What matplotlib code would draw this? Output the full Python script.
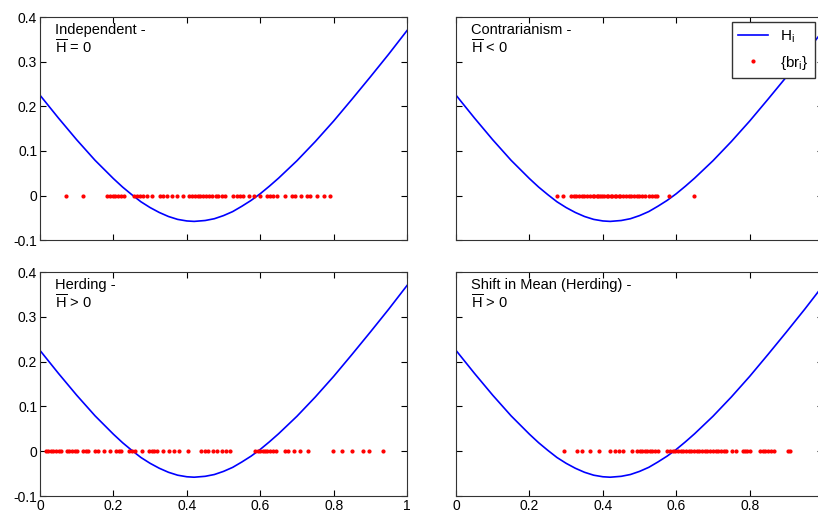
import numpy as np
import matplotlib
matplotlib.use('Agg')
import matplotlib.pyplot as plt

plt.rcParams['font.family'] = ['Liberation Sans', 'DejaVu Sans']
plt.rcParams['mathtext.fontset'] = 'custom'
plt.rcParams['mathtext.rm'] = 'Liberation Sans'
plt.rcParams['mathtext.it'] = 'Liberation Sans'

# H_i curve (same shape in every panel)
curve_x = [0.0, 0.05, 0.1, 0.15, 0.2, 0.225, 0.25, 0.275, 0.3, 0.325, 0.35, 0.375,
           0.4, 0.42, 0.45, 0.475, 0.5, 0.525, 0.55, 0.575, 0.6, 0.625, 0.65, 0.7,
           0.75, 0.8, 0.85, 0.9, 0.95, 1.0]
curve_y = [0.225, 0.174, 0.125, 0.079, 0.038, 0.019, 0.002, -0.014, -0.027, -0.038,
           -0.047, -0.0535, -0.057, -0.058, -0.056, -0.052, -0.045, -0.036, -0.024,
           -0.011, 0.004, 0.021, 0.039, 0.078, 0.121, 0.167, 0.216, 0.266, 0.317, 0.370]

# {br_i} positions for each panel
br_independent = [0.070, 0.118, 0.183, 0.191, 0.198, 0.205, 0.213, 0.221, 0.230, 0.257,
                  0.263, 0.272, 0.281, 0.291, 0.304, 0.327, 0.336, 0.347, 0.359, 0.372,
                  0.390, 0.407, 0.415, 0.422, 0.430, 0.436, 0.443, 0.451, 0.460, 0.469,
                  0.479, 0.486, 0.495, 0.504, 0.527, 0.536, 0.545, 0.554, 0.570, 0.584,
                  0.599, 0.619, 0.628, 0.636, 0.645, 0.668, 0.686, 0.695, 0.710, 0.728,
                  0.736, 0.754, 0.774, 0.790]
br_contrarian = [0.275, 0.292, 0.313, 0.321, 0.328, 0.335, 0.342, 0.348, 0.357, 0.364,
                 0.372, 0.377, 0.383, 0.388, 0.393, 0.399, 0.404, 0.410, 0.415, 0.421,
                 0.426, 0.432, 0.437, 0.443, 0.448, 0.455, 0.463, 0.470, 0.477, 0.484,
                 0.492, 0.499, 0.506, 0.515, 0.526, 0.534, 0.541, 0.548, 0.581, 0.647]
br_herding = [0.016, 0.023, 0.029, 0.036, 0.044, 0.051, 0.058, 0.073, 0.080, 0.087,
              0.094, 0.100, 0.118, 0.125, 0.132, 0.150, 0.159, 0.174, 0.191, 0.207,
              0.216, 0.222, 0.243, 0.250, 0.259, 0.277, 0.298, 0.304, 0.311, 0.318,
              0.336, 0.352, 0.365, 0.380, 0.404, 0.440, 0.450, 0.459, 0.470, 0.481,
              0.495, 0.507, 0.518, 0.586, 0.593, 0.599, 0.607, 0.613, 0.619, 0.627,
              0.636, 0.643, 0.668, 0.677, 0.692, 0.708, 0.731, 0.799, 0.824, 0.849,
              0.881, 0.897, 0.934]
br_shift = [0.293, 0.330, 0.343, 0.366, 0.389, 0.419, 0.432, 0.444, 0.455, 0.480,
            0.494, 0.501, 0.507, 0.514, 0.521, 0.528, 0.535, 0.543, 0.550, 0.576,
            0.583, 0.590, 0.597, 0.605, 0.612, 0.619, 0.627, 0.634, 0.641, 0.648,
            0.656, 0.663, 0.670, 0.678, 0.685, 0.692, 0.699, 0.707, 0.714, 0.721,
            0.729, 0.736, 0.753, 0.762, 0.781, 0.787, 0.794, 0.802, 0.829, 0.836,
            0.843, 0.851, 0.858, 0.865, 0.905, 0.911]

titles = ['Independent -', 'Contrarianism -', 'Herding -', 'Shift in Mean (Herding) -']
subtitles = [r'$\overline{\mathrm{H}}$ = 0', r'$\overline{\mathrm{H}}$ < 0',
             r'$\overline{\mathrm{H}}$ > 0', r'$\overline{\mathrm{H}}$ > 0']
dots = [br_independent, br_contrarian, br_herding, br_shift]

xticks = [0, 0.2, 0.4, 0.6, 0.8, 1]
xticklabels = ['0', '0.2', '0.4', '0.6', '0.8', '1']
yticks = [-0.1, 0, 0.1, 0.2, 0.3, 0.4]
yticklabels = ['-0.1', '0', '0.1', '0.2', '0.3', '0.4']

fig = plt.figure(figsize=(8.18, 5.12), dpi=100)

# axes boxes in figure fractions [left, bottom, width, height]
boxes = [[0.0489, 0.531, 0.4487, 0.4355],
         [0.5575, 0.531, 0.4487, 0.4355],
         [0.0489, 0.0312, 0.4487, 0.4375],
         [0.5575, 0.0312, 0.4487, 0.4375]]

for i in range(4):
    ax = fig.add_axes(boxes[i])
    line, = ax.plot(curve_x, curve_y, color='#0000ff', lw=1.2, label=r'H$_{\mathrm{i}}$')
    pts, = ax.plot(dots[i], np.zeros(len(dots[i])), '.', color='#ff0000', ms=4,
                   label=r'{br$_{\mathrm{i}}$}')
    ax.set_xlim(0, 1)
    ax.set_ylim(-0.1, 0.4)
    ax.set_xticks(xticks)
    ax.set_yticks(yticks)
    if i == 2:
        ax.set_xticklabels(xticklabels, fontsize=10)
    elif i == 3:
        # the last "1" falls outside the picture in the reference
        ax.set_xticklabels(xticklabels[:-1] + [''], fontsize=10)
    else:
        ax.set_xticklabels([])
    if i % 2 == 0:
        ax.set_yticklabels(yticklabels, fontsize=10)
    else:
        ax.set_yticklabels([])
    ax.tick_params(direction='in', top=True, right=True, length=4, width=0.8, pad=2)
    for s in ax.spines.values():
        s.set_color('#333333')
        s.set_linewidth(0.8)
    ax.text(0.04, 0.975, titles[i], transform=ax.transAxes, va='top', ha='left',
            fontsize=10.5)
    ax.text(0.04, 0.905, subtitles[i], transform=ax.transAxes, va='top', ha='left',
            fontsize=10.5)
    if i == 1:
        fig.legend([line, pts], [line.get_label(), pts.get_label()],
                   loc='upper right', bbox_to_anchor=(815 / 818, 1 - 22 / 512),
                   bbox_transform=fig.transFigure, borderaxespad=0, fancybox=False,
                   edgecolor='#333333', framealpha=1, fontsize=11,
                   handlelength=2.0, borderpad=0.4, labelspacing=0.6)

fig.savefig('out.png', dpi=100)
